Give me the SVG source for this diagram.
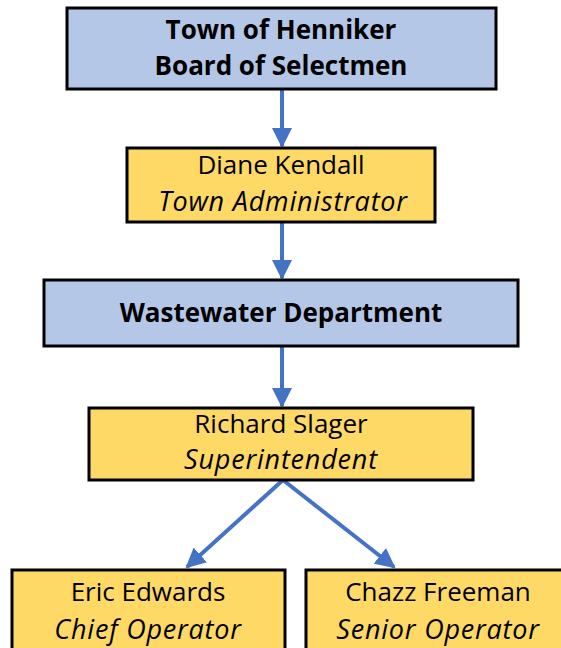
<svg xmlns="http://www.w3.org/2000/svg" width="561" height="648" viewBox="0 0 561 648">
<style>
.blue{fill:#B4C7E7;stroke:#000;stroke-width:3}
.yel{fill:#FFD966;stroke:#000;stroke-width:3}
text{font-family:"Open Sans","Noto Sans","Liberation Sans",sans-serif;font-size:26px;fill:#000;text-anchor:middle}
.b{font-weight:bold}
.i{font-style:italic;font-size:27px;letter-spacing:0.8px}
.con line{stroke:#4472C4;stroke-width:4;marker-end:url(#ah)}
</style>
<defs>
<marker id="ah" markerWidth="5" markerHeight="5" refX="4.5" refY="2.5" orient="auto" markerUnits="strokeWidth">
<path d="M0,0 L5,2.5 L0,5 Z" fill="#4472C4"/>
</marker>
</defs>
<g class="con">
<line x1="282" y1="89" x2="282" y2="146"/>
<line x1="282" y1="222" x2="282" y2="278"/>
<line x1="282" y1="346" x2="282" y2="406"/>
<line x1="283" y1="480" x2="187" y2="567"/>
<line x1="283" y1="480" x2="394" y2="567"/>
</g>
<g id="board">
<rect class="blue" x="67" y="8" width="429" height="81"/>
<text class="b" x="281" y="39">Town of Henniker</text>
<text class="b" x="281" y="75">Board of Selectmen</text>
</g>
<g id="kendall">
<rect class="yel" x="127" y="148" width="308" height="74"/>
<text x="281" y="174">Diane Kendall</text>
<text class="i" x="283" y="211">Town Administrator</text>
</g>
<g id="wastewater">
<rect class="blue" x="44" y="280" width="474" height="66"/>
<text class="b" x="281" y="322">Wastewater Department</text>
</g>
<g id="slager">
<rect class="yel" x="89" y="408" width="384" height="72"/>
<text x="281" y="433">Richard Slager</text>
<text class="i" x="281" y="469">Superintendent</text>
</g>
<g id="edwards">
<rect class="yel" x="12" y="570" width="273" height="90"/>
<text x="148" y="601">Eric Edwards</text>
<text class="i" x="148" y="639">Chief Operator</text>
</g>
<g id="freeman">
<rect class="yel" x="306" y="570" width="270" height="90"/>
<text x="438" y="601">Chazz Freeman</text>
<text class="i" x="438" y="639">Senior Operator</text>
</g>
</svg>
